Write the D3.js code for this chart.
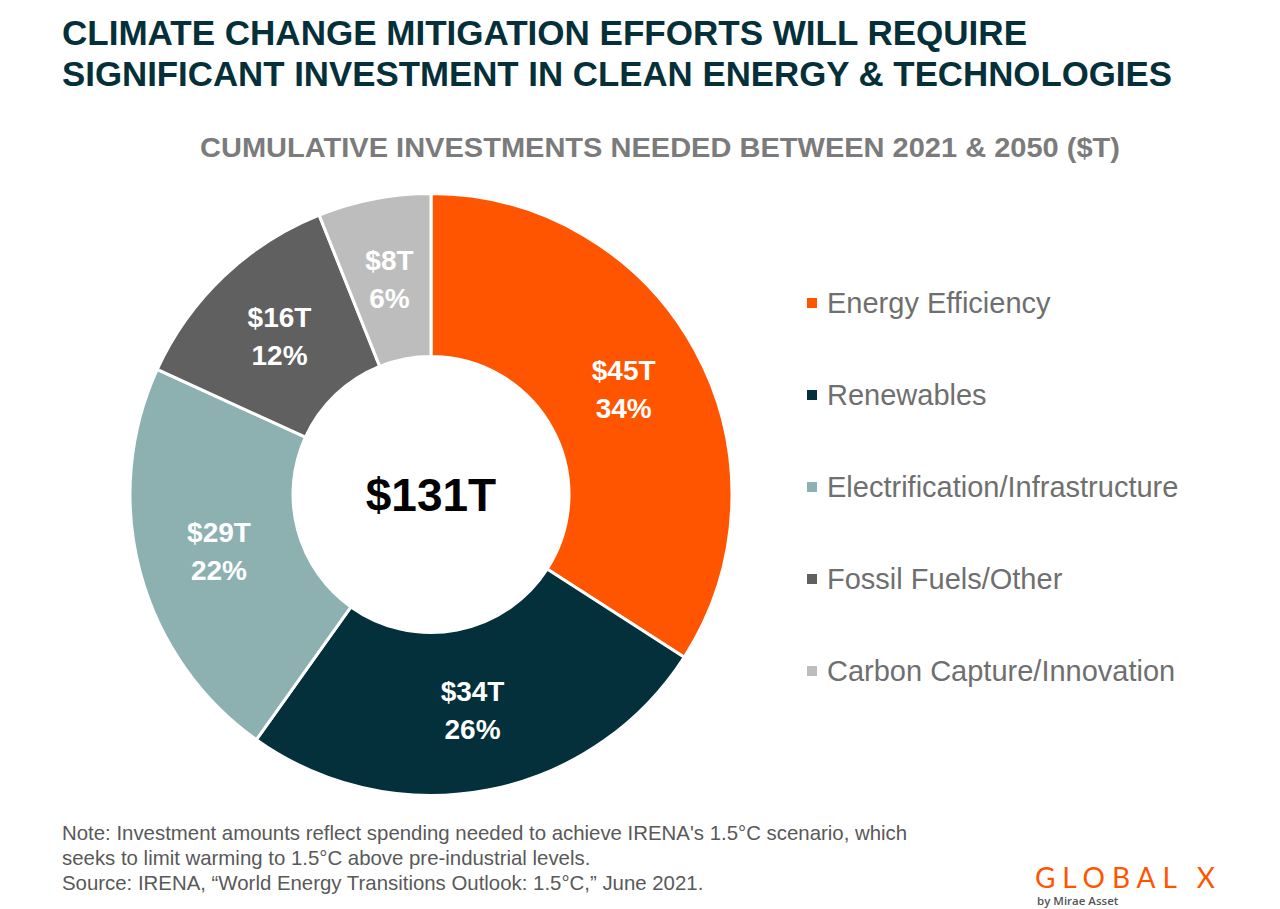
<!DOCTYPE html>
<html><head><meta charset="utf-8">
<script src="https://cdn.jsdelivr.net/npm/d3@7"></script>
<style>
html,body{margin:0;padding:0;background:#fff;}
svg{display:block;font-family:"Liberation Sans",Arial,sans-serif;}
</style></head>
<body>
<script>
const categories = ["Energy Efficiency","Renewables","Electrification/Infrastructure","Fossil Fuels/Other","Carbon Capture/Innovation"];
const values = [45,34,29,16,8];
const valueLabels = ["$45T","$34T","$29T","$16T","$8T"];
const pctLabels = ["34%","26%","22%","12%","6%"];
const colors = ["#FF5500","#03303A","#8DB0B0","#606060","#BDBDBD"];
const totalLabel = "$131T";
const titleLines = ["CLIMATE CHANGE MITIGATION EFFORTS WILL REQUIRE","SIGNIFICANT INVESTMENT IN CLEAN ENERGY & TECHNOLOGIES"];
const subtitle = "CUMULATIVE INVESTMENTS NEEDED BETWEEN 2021 & 2050 ($T)";
const notes = ["Note: Investment amounts reflect spending needed to achieve IRENA's 1.5°C scenario, which","seeks to limit warming to 1.5°C above pre-industrial levels.","Source: IRENA, \u201cWorld Energy Transitions Outlook: 1.5°C,\u201d June 2021."];

const W=1280,H=909;
const svg=d3.select("body").append("svg").attr("width",W).attr("height",H);

// Title
svg.append("g").selectAll("text").data(titleLines).join("text")
  .attr("x",62).attr("y",(d,i)=>45+i*41)
  .attr("font-size",35).attr("font-weight","bold").attr("fill","#05303A")
  .attr("textLength",(d,i)=>i===0?965:1110).attr("lengthAdjust","spacingAndGlyphs")
  .text(d=>d);

svg.append("text").attr("x",200).attr("y",157).attr("font-size",27).attr("font-weight","bold")
  .attr("fill","#7B7B7B").attr("textLength",920).attr("lengthAdjust","spacingAndGlyphs").text(subtitle);

// Donut
const cx=431,cy=494.5,R=301,r=138;
const pie=d3.pie().sort(null).value(d=>d.v);
const data=categories.map((c,i)=>({c,v:values[i],i}));
const arcs=pie(data);
const arc=d3.arc().innerRadius(r).outerRadius(R);
const g=svg.append("g").attr("transform",`translate(${cx},${cy})`);
g.selectAll("path").data(arcs).join("path")
  .attr("d",arc).attr("fill",d=>colors[d.data.i]).attr("stroke","#fff").attr("stroke-width",3);

const lab=g.selectAll("g.lab").data(arcs).join("g").attr("class","lab")
  .attr("transform",d=>`translate(${arc.centroid(d)})`);
lab.append("text").attr("text-anchor","middle").attr("y",-9).attr("font-size",28).attr("font-weight","bold")
  .attr("fill","#fff").text(d=>valueLabels[d.data.i]);
lab.append("text").attr("text-anchor","middle").attr("y",29).attr("font-size",28).attr("font-weight","bold")
  .attr("fill","#fff").text(d=>pctLabels[d.data.i]);

g.append("text").attr("text-anchor","middle").attr("y",16).attr("font-size",46).attr("font-weight","bold")
  .attr("fill","#000").text(totalLabel);

// Legend
const leg=svg.append("g").selectAll("g").data(categories).join("g")
  .attr("transform",(d,i)=>`translate(807,${303+i*92})`);
leg.append("rect").attr("x",0).attr("y",-5).attr("width",10).attr("height",10).attr("fill",(d,i)=>colors[i]);
leg.append("text").attr("x",20).attr("y",10).attr("font-size",29).attr("fill","#6F6F6F").text(d=>d);

// Notes
svg.append("g").selectAll("text").data(notes).join("text")
  .attr("x",62).attr("y",(d,i)=>840+i*25).attr("font-size",20.4).attr("fill","#595959").text(d=>d);

// Logo
svg.append("text").attr("x",1035).attr("y",888).attr("font-family","Lato, sans-serif").attr("font-weight",400)
  .attr("font-size",28).attr("fill","#FF5500").attr("textLength",180).attr("lengthAdjust","spacing").text("GLOBAL X");
svg.append("text").attr("x",1037).attr("y",905).attr("font-family","'Open Sans', sans-serif").attr("font-weight",600)
  .attr("font-size",11.5).attr("fill","#555").text("by Mirae Asset");
</script>
</body></html>
